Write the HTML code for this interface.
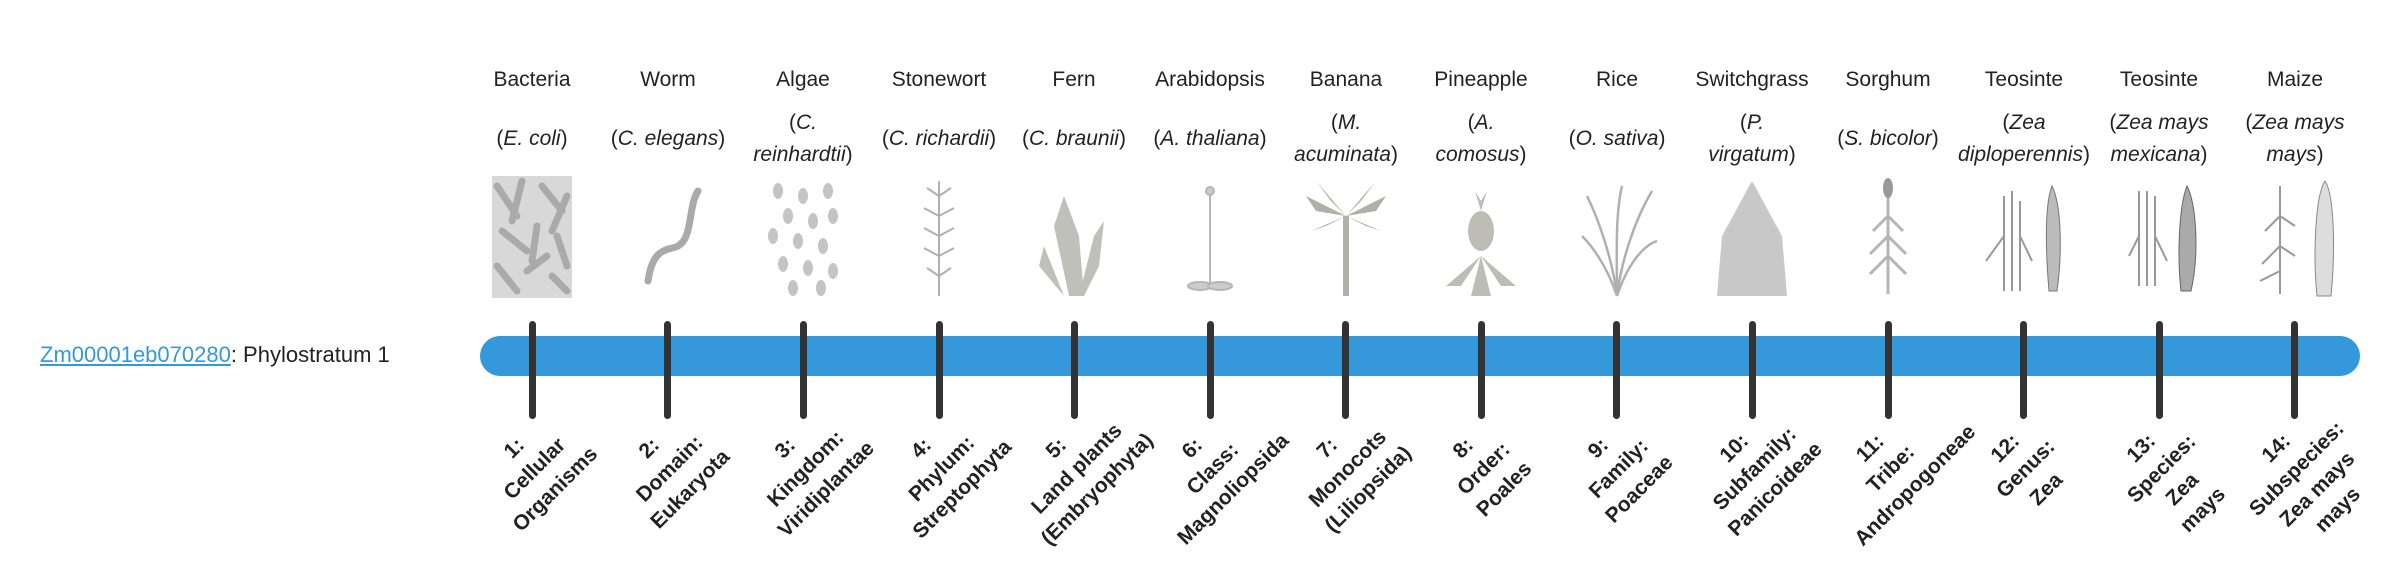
<!DOCTYPE html>
<html><head><meta charset="utf-8">
<style>
body{margin:0;width:2400px;height:580px;background:#fff;position:relative;overflow:hidden;font-family:"Liberation Sans",sans-serif;color:#222}
.a{position:absolute}
.nm{position:absolute;width:170px;text-align:center;font-size:21px;top:68px;white-space:nowrap}
.sp{position:absolute;width:170px;text-align:center;font-size:21px;line-height:32px;white-space:nowrap}
.sp i{font-style:italic}
.tk{position:absolute;top:321px;width:7px;height:98px;background:#333;border-radius:4px}
.lb{position:absolute;top:438px;width:150px;text-align:center;font-weight:bold;font-size:21px;line-height:29px;transform-origin:50% 0;transform:rotate(-45deg);white-space:nowrap;color:#222}
.im{position:absolute;top:176px;width:100px;height:122px}
</style></head><body>
<div class="a" style="left:40px;top:340px;font-size:22px;line-height:30px;white-space:nowrap"><span style="color:#3498db;text-decoration:underline">Zm00001eb070280</span>: Phylostratum 1</div>
<div class="a" style="left:480px;top:336px;width:1880px;height:40px;background:#3598db;border-radius:20px"></div>

<div class="nm" style="left:447px">Bacteria</div>
<div class="nm" style="left:583px">Worm</div>
<div class="nm" style="left:718px">Algae</div>
<div class="nm" style="left:854px">Stonewort</div>
<div class="nm" style="left:989px">Fern</div>
<div class="nm" style="left:1125px">Arabidopsis</div>
<div class="nm" style="left:1261px">Banana</div>
<div class="nm" style="left:1396px">Pineapple</div>
<div class="nm" style="left:1532px">Rice</div>
<div class="nm" style="left:1667px">Switchgrass</div>
<div class="nm" style="left:1803px">Sorghum</div>
<div class="nm" style="left:1939px">Teosinte</div>
<div class="nm" style="left:2074px">Teosinte</div>
<div class="nm" style="left:2210px">Maize</div>

<div class="sp" style="left:447px;top:123px">(<i>E. coli</i>)</div>
<div class="sp" style="left:583px;top:123px">(<i>C. elegans</i>)</div>
<div class="sp" style="left:718px;top:107px">(<i>C.</i><br><i>reinhardtii</i>)</div>
<div class="sp" style="left:854px;top:123px">(<i>C. richardii</i>)</div>
<div class="sp" style="left:989px;top:123px">(<i>C. braunii</i>)</div>
<div class="sp" style="left:1125px;top:123px">(<i>A. thaliana</i>)</div>
<div class="sp" style="left:1261px;top:107px">(<i>M.</i><br><i>acuminata</i>)</div>
<div class="sp" style="left:1396px;top:107px">(<i>A.</i><br><i>comosus</i>)</div>
<div class="sp" style="left:1532px;top:123px">(<i>O. sativa</i>)</div>
<div class="sp" style="left:1667px;top:107px">(<i>P.</i><br><i>virgatum</i>)</div>
<div class="sp" style="left:1803px;top:123px">(<i>S. bicolor</i>)</div>
<div class="sp" style="left:1939px;top:107px">(<i>Zea</i><br><i>diploperennis</i>)</div>
<div class="sp" style="left:2074px;top:107px">(<i>Zea mays</i><br><i>mexicana</i>)</div>
<div class="sp" style="left:2210px;top:107px">(<i>Zea mays</i><br><i>mays</i>)</div>

<svg class="im" style="left:482px" viewBox="0 0 100 122"><rect x="10" y="0" width="80" height="122" fill="#d8d8d8"/><g stroke="#aaa" stroke-width="7" stroke-linecap="round"><path d="M15 10l20 30M40 5l-10 40M60 10l20 25M85 20l-15 35M20 55l25 20M55 50l-5 35M75 60l10 30M15 90l20 25M45 95l20-15M70 100l15 15"/></g></svg>
<svg class="im" style="left:618px" viewBox="0 0 100 122"><path d="M30 105C35 70 50 75 60 70C75 62 70 30 80 15" stroke="#aaa" stroke-width="7" fill="none" stroke-linecap="round"/></svg>
<svg class="im" style="left:753px" viewBox="0 0 100 122"><g fill="#c4c4c4"><ellipse cx="25" cy="15" rx="5" ry="8"/><ellipse cx="50" cy="20" rx="5" ry="8"/><ellipse cx="75" cy="15" rx="5" ry="8"/><ellipse cx="35" cy="40" rx="5" ry="8"/><ellipse cx="60" cy="45" rx="5" ry="8"/><ellipse cx="80" cy="40" rx="5" ry="8"/><ellipse cx="20" cy="60" rx="5" ry="8"/><ellipse cx="45" cy="65" rx="5" ry="8"/><ellipse cx="70" cy="70" rx="5" ry="8"/><ellipse cx="30" cy="88" rx="5" ry="8"/><ellipse cx="55" cy="92" rx="5" ry="8"/><ellipse cx="80" cy="95" rx="5" ry="8"/><ellipse cx="40" cy="112" rx="5" ry="8"/><ellipse cx="68" cy="112" rx="5" ry="8"/></g></svg>
<svg class="im" style="left:889px" viewBox="0 0 100 122"><g stroke="#b0b0b0" stroke-width="2" fill="none"><path d="M50 5V120"/><path d="M50 20l-12-8M50 20l12-8M50 40l-15-8M50 40l15-8M50 60l-15-8M50 60l15-8M50 80l-15-8M50 80l15-8M50 100l-12-8M50 100l12-8"/></g></svg>
<svg class="im" style="left:1024px" viewBox="0 0 100 122"><g fill="#c0c0bb"><path d="M45 120L30 50 40 20 55 60 60 120z"/><path d="M55 120L70 60 80 45 75 90 60 120z"/><path d="M40 120L20 70 15 90z"/></g></svg>
<svg class="im" style="left:1160px" viewBox="0 0 100 122"><g stroke="#b5b5b5" stroke-width="2" fill="#ccc"><path d="M50 15V110" fill="none"/><ellipse cx="40" cy="110" rx="12" ry="4"/><ellipse cx="60" cy="110" rx="12" ry="4"/><circle cx="50" cy="15" r="4"/></g></svg>
<svg class="im" style="left:1296px" viewBox="0 0 100 122"><g fill="#b0b0a8"><path d="M47 120h6V40h-6z"/><path d="M50 40L10 20 20 35zM50 40L90 20 80 35zM50 40L20 5 35 25zM50 40L80 5 65 25zM50 40L15 55 30 50zM50 40L85 55 70 50z"/></g></svg>
<svg class="im" style="left:1431px" viewBox="0 0 100 122"><g fill="#bdbdb5"><ellipse cx="50" cy="55" rx="13" ry="20"/><path d="M50 35l-6-20 6 10 6-10z"/><path d="M50 80L15 110 30 110zM50 80L85 110 70 110zM50 80L40 120 60 120z"/></g></svg>
<svg class="im" style="left:1567px" viewBox="0 0 100 122"><g stroke="#b0b0b0" stroke-width="2.5" fill="none"><path d="M50 120C45 80 30 40 20 20M50 120C55 80 70 40 85 15M50 120C50 80 48 40 55 10M50 120C40 90 25 70 15 60M50 120C60 90 75 70 90 65"/></g></svg>
<svg class="im" style="left:1702px" viewBox="0 0 100 122"><g fill="#c8c8c8"><path d="M50 5L20 60 15 120h70L80 60z"/></g></svg>
<svg class="im" style="left:1838px" viewBox="0 0 100 122"><g stroke="#b5b5b5" stroke-width="3" fill="none"><path d="M50 20V118M50 40l-15 15M50 40l15 15M50 60l-18 18M50 60l18 18M50 80l-18 18M50 80l18 18"/></g><ellipse cx="50" cy="12" rx="5" ry="10" fill="#999"/></svg>
<svg class="im" style="left:1974px" viewBox="0 0 100 122"><g stroke="#999" stroke-width="2" fill="none"><path d="M30 115V20M38 115V15M46 115V25M30 60l-18 25M46 60l12 25"/></g><path d="M78 10C70 30 72 80 75 115h8C88 80 88 30 78 10z" fill="#bbb" stroke="#777"/></svg>
<svg class="im" style="left:2109px" viewBox="0 0 100 122"><g stroke="#999" stroke-width="2" fill="none"><path d="M30 110V15M38 110V15M46 110V20M30 60l-10 20M46 60l12 25"/></g><path d="M78 10C70 30 68 80 72 115h10C90 80 88 30 78 10z" fill="#aaa" stroke="#666"/></svg>
<svg class="im" style="left:2245px" viewBox="0 0 100 122"><g stroke="#999" stroke-width="2" fill="none"><path d="M35 118V10M35 40l-15 15M35 40l15 10M35 70l-18 18M35 70l15 10M35 95l-20 10"/></g><path d="M80 5C70 20 68 80 72 120h14C90 80 90 20 80 5z" fill="#ddd" stroke="#888"/></svg>

<div class="tk" style="left:529px"></div>
<div class="tk" style="left:664px"></div>
<div class="tk" style="left:800px"></div>
<div class="tk" style="left:936px"></div>
<div class="tk" style="left:1071px"></div>
<div class="tk" style="left:1207px"></div>
<div class="tk" style="left:1342px"></div>
<div class="tk" style="left:1478px"></div>
<div class="tk" style="left:1613px"></div>
<div class="tk" style="left:1749px"></div>
<div class="tk" style="left:1885px"></div>
<div class="tk" style="left:2020px"></div>
<div class="tk" style="left:2156px"></div>
<div class="tk" style="left:2291px"></div>

<div class="lb" style="left:429px">1:<br>Cellular<br>Organisms</div>
<div class="lb" style="left:564px">2:<br>Domain:<br>Eukaryota</div>
<div class="lb" style="left:700px">3:<br>Kingdom:<br>Viridiplantae</div>
<div class="lb" style="left:836px">4:<br>Phylum:<br>Streptophyta</div>
<div class="lb" style="left:971px">5:<br>Land plants<br>(Embryophyta)</div>
<div class="lb" style="left:1107px">6:<br>Class:<br>Magnoliopsida</div>
<div class="lb" style="left:1242px">7:<br>Monocots<br>(Liliopsida)</div>
<div class="lb" style="left:1378px">8:<br>Order:<br>Poales</div>
<div class="lb" style="left:1513px">9:<br>Family:<br>Poaceae</div>
<div class="lb" style="left:1649px">10:<br>Subfamily:<br>Panicoideae</div>
<div class="lb" style="left:1785px">11:<br>Tribe:<br>Andropogoneae</div>
<div class="lb" style="left:1920px">12:<br>Genus:<br>Zea</div>
<div class="lb" style="left:2056px">13:<br>Species:<br>Zea<br>mays</div>
<div class="lb" style="left:2191px">14:<br>Subspecies:<br>Zea mays<br>mays</div>
</body></html>
